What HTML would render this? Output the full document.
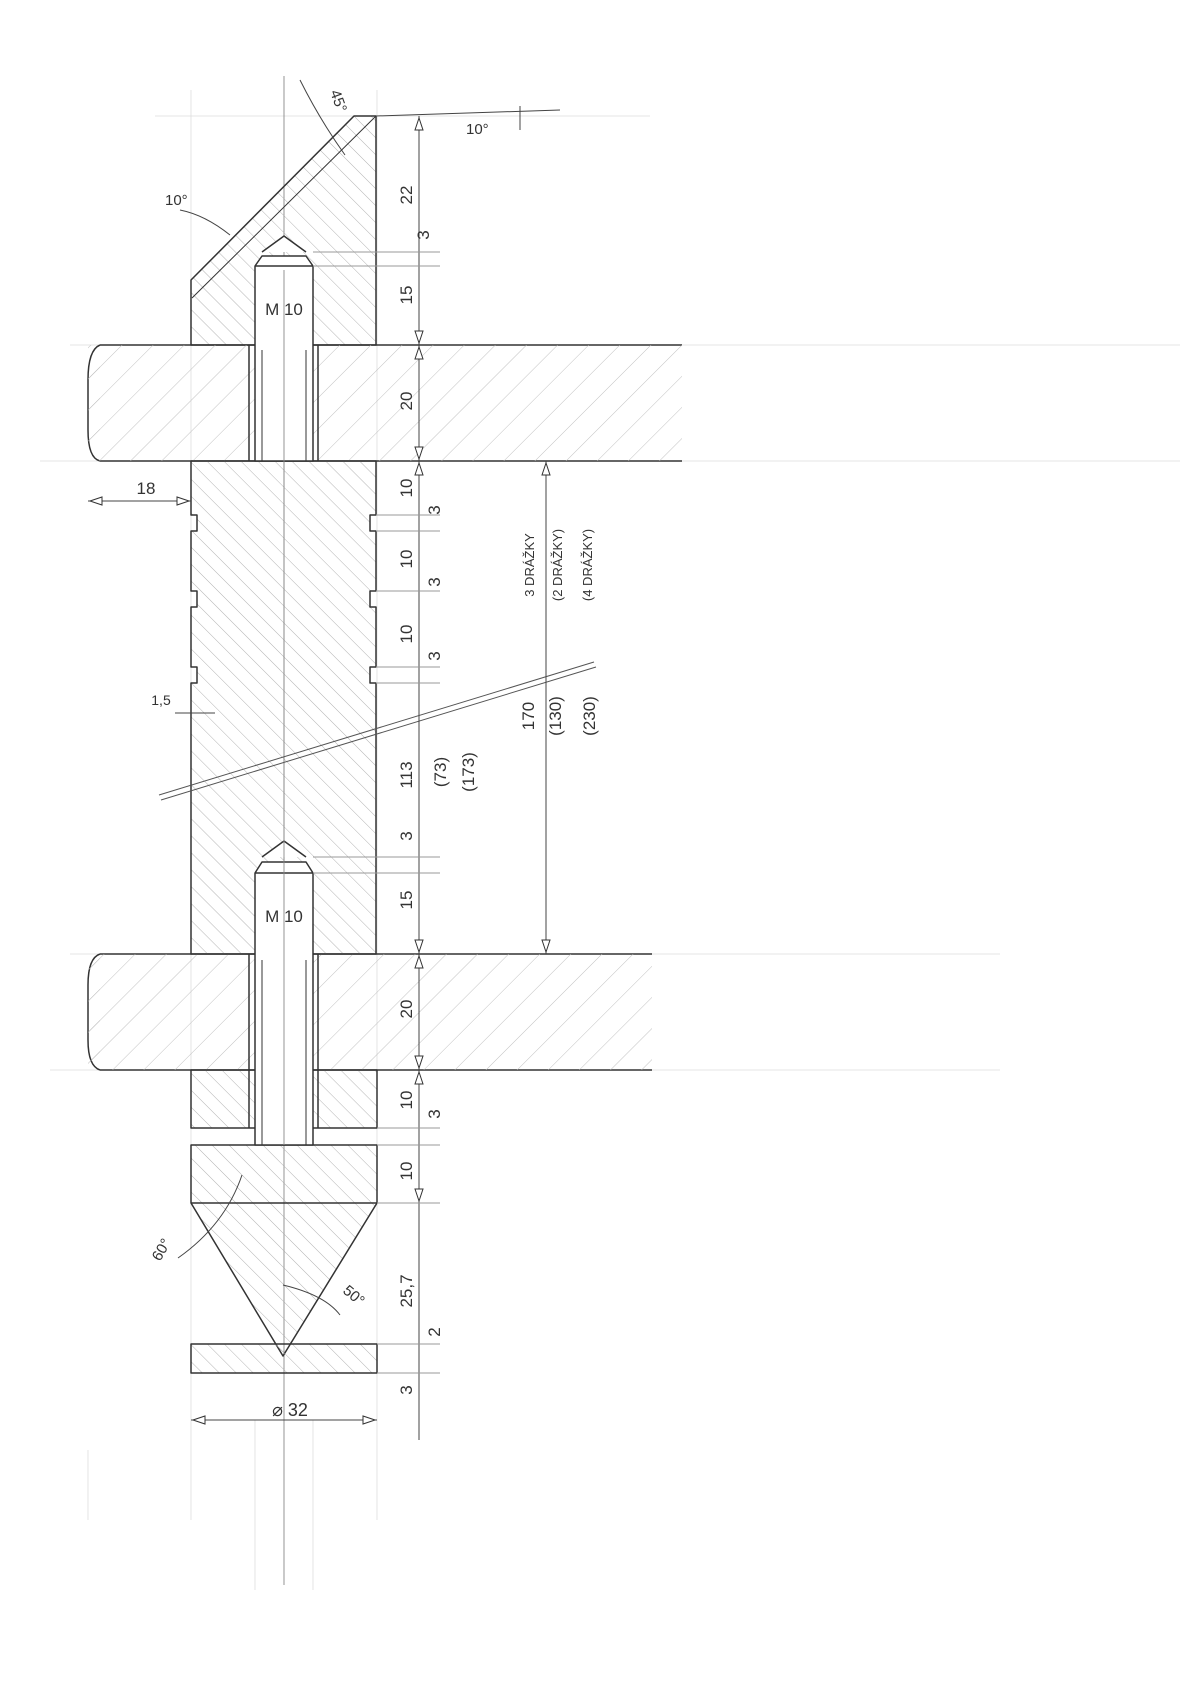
<!DOCTYPE html>
<html><head><meta charset="utf-8"><style>
html,body{margin:0;padding:0;background:#fff;}
svg{display:block;}
text{font-family:"Liberation Sans",sans-serif;fill:#333;}
</style></head><body>
<svg width="1202" height="1700" viewBox="0 0 1202 1700" xmlns="http://www.w3.org/2000/svg">
<defs>
<pattern id="hb" patternUnits="userSpaceOnUse" width="12" height="12" patternTransform="rotate(-45)">
<line x1="0" y1="0" x2="0" y2="12" stroke="#aaa" stroke-width="0.9"/></pattern>
<pattern id="hf" patternUnits="userSpaceOnUse" width="22" height="22" patternTransform="rotate(45)">
<line x1="0" y1="0" x2="0" y2="22" stroke="#bbb" stroke-width="0.9"/></pattern>
</defs>
<g stroke="#ddd" stroke-width="0.8" fill="none">
<line x1="155" y1="116" x2="650" y2="116"/>
<line x1="70" y1="345" x2="1180" y2="345"/>
<line x1="40" y1="461" x2="1180" y2="461"/>
<line x1="70" y1="954" x2="1000" y2="954"/>
<line x1="50" y1="1070" x2="1000" y2="1070"/>
<line x1="191" y1="90" x2="191" y2="1520"/>
<line x1="377" y1="90" x2="377" y2="1520"/>
<line x1="255" y1="1420" x2="255" y2="1590"/>
<line x1="313" y1="1420" x2="313" y2="1590"/>
<line x1="88" y1="1450" x2="88" y2="1520"/>
</g>
<line x1="284" y1="76" x2="284" y2="1585" stroke="#888" stroke-width="0.9"/>
<g stroke="#333" stroke-width="1.5" stroke-linejoin="round">
<polygon points="354,116 376,116 376,345 191,345 191,280" fill="url(#hb)"/>
<line x1="376" y1="116" x2="192" y2="298" stroke-width="1"/>
<path d="M100,345 H682 M100,461 H682 M100,345 Q88,350 88,380 V430 Q88,458 100,461" fill="url(#hf)"/>
<path d="M100,954 H652 M100,1070 H652 M100,954 Q88,958 88,985 V1040 Q88,1066 100,1070" fill="url(#hf)"/>
<rect x="88" y="345" width="594" height="116" fill="url(#hf)" stroke="none"/>
<rect x="88" y="954" width="564" height="116" fill="url(#hf)" stroke="none"/>
<path d="M191,461 V515 H197 V531 H191 V591 H197 V607 H191 V667 H197 V683 H191 V954 H376 V683 H370 V667 H376 V607 H370 V591 H376 V531 H370 V515 H376 V461 Z" fill="url(#hb)"/>
<rect x="191" y="1070" width="186" height="58" fill="url(#hb)"/>
<polygon points="191,1145 377,1145 377,1203 283,1356 191,1203" fill="url(#hb)"/>
<line x1="191" y1="1203" x2="377" y2="1203"/>
<rect x="191" y="1344" width="186" height="29" fill="url(#hb)"/>
<path d="M255,266 V461 H313 V266 Z M255,266 L262,256 H306 L313,266 M262,252 L284,236 L306,252" fill="#fff"/>
<line x1="249" y1="345" x2="249" y2="461"/><line x1="318" y1="345" x2="318" y2="461"/>
<path d="M255,873 V1145 H313 V873 Z M262,857 L284,841 L306,857 M255,873 L262,862 H306 L313,873" fill="#fff"/>
<line x1="249" y1="954" x2="249" y2="1128"/><line x1="318" y1="954" x2="318" y2="1128"/>
</g>
<rect x="256" y="267" width="56" height="193" fill="#fff"/>
<rect x="256" y="874" width="56" height="270" fill="#fff"/>
<g stroke="#333" stroke-width="1" fill="none">
<path d="M255,266 V461 M313,266 V461 M255,873 V1145 M313,873 V1145 M262,350 V461 M306,350 V461 M262,960 V1145 M306,960 V1145"/>
</g>
<line x1="284" y1="270" x2="284" y2="1145" stroke="#888" stroke-width="0.9"/>
<path d="M159,795 L594,662 M161,800 L596,667" stroke="#555" stroke-width="1"/>
<g stroke="#444" stroke-width="1" fill="none">
<line x1="419" y1="116" x2="419" y2="1440"/>
<line x1="546" y1="461" x2="546" y2="954"/>
<line x1="88" y1="501" x2="191" y2="501"/>
<line x1="191" y1="1420" x2="377" y2="1420"/>
<line x1="175" y1="713" x2="215" y2="713"/>
<path d="M376,116 L560,110"/>
<path d="M313,252 H440 M313,266 H440 M313,857 H440 M313,873 H440 M377,1128 H440 M377,1145 H440 M377,1203 H440 M377,1344 H440 M377,1373 H440 M376,515 H440 M376,531 H440 M376,591 H440 M376,667 H440 M376,683 H440" stroke="#999"/>
<path d="M300,80 Q320,120 345,155"/>
<path d="M180,210 Q205,215 230,235"/>
<path d="M242,1175 Q225,1225 178,1258"/>
<path d="M283,1285 Q325,1295 340,1315"/>
<path d="M520,106 V130"/>
</g>
<g fill="#fff" stroke="#333" stroke-width="1">
<polygon points="419,118 415,130 423,130"/><polygon points="419,343 415,331 423,331"/>
<polygon points="419,347 415,359 423,359"/><polygon points="419,459 415,447 423,447"/>
<polygon points="419,463 415,475 423,475"/><polygon points="419,952 415,940 423,940"/>
<polygon points="419,956 415,968 423,968"/><polygon points="419,1068 415,1056 423,1056"/>
<polygon points="419,1072 415,1084 423,1084"/><polygon points="419,1201 415,1189 423,1189"/>
<polygon points="546,463 542,475 550,475"/><polygon points="546,952 542,940 550,940"/>
<polygon points="90,501 102,497 102,505"/><polygon points="189,501 177,497 177,505"/>
<polygon points="193,1420 205,1416 205,1424"/><polygon points="375,1420 363,1416 363,1424"/>
</g>
<g font-size="17">
<text x="284" y="315" text-anchor="middle">M 10</text>
<text x="284" y="922" text-anchor="middle">M 10</text>
<text x="146" y="494" text-anchor="middle">18</text>
<text x="161" y="705" text-anchor="middle" font-size="14">1,5</text>
<text x="290" y="1416" text-anchor="middle" font-size="18">⌀ 32</text>
<text x="165" y="205" font-size="15">10°</text>
<text x="466" y="134" font-size="15">10°</text>
<text transform="translate(330,92) rotate(70)" font-size="15">45°</text>
<text transform="translate(160,1262) rotate(-60)" font-size="15">60°</text>
<text transform="translate(342,1292) rotate(40)" font-size="15">50°</text>
</g>
<g font-size="17" text-anchor="middle">
<text transform="translate(412,195) rotate(-90)">22</text>
<text transform="translate(429,235) rotate(-90)">3</text>
<text transform="translate(412,295) rotate(-90)">15</text>
<text transform="translate(412,401) rotate(-90)">20</text>
<text transform="translate(412,488) rotate(-90)">10</text>
<text transform="translate(440,510) rotate(-90)">3</text>
<text transform="translate(412,559) rotate(-90)">10</text>
<text transform="translate(440,582) rotate(-90)">3</text>
<text transform="translate(412,634) rotate(-90)">10</text>
<text transform="translate(440,656) rotate(-90)">3</text>
<text transform="translate(412,775) rotate(-90)">113</text>
<text transform="translate(446,772) rotate(-90)">(73)</text>
<text transform="translate(474,772) rotate(-90)">(173)</text>
<text transform="translate(412,836) rotate(-90)">3</text>
<text transform="translate(412,900) rotate(-90)">15</text>
<text transform="translate(412,1009) rotate(-90)">20</text>
<text transform="translate(412,1100) rotate(-90)">10</text>
<text transform="translate(440,1114) rotate(-90)">3</text>
<text transform="translate(412,1171) rotate(-90)">10</text>
<text transform="translate(412,1291) rotate(-90)">25,7</text>
<text transform="translate(440,1332) rotate(-90)">2</text>
<text transform="translate(412,1390) rotate(-90)">3</text>
<text transform="translate(534,716) rotate(-90)">170</text>
<text transform="translate(561,716) rotate(-90)">(130)</text>
<text transform="translate(595,716) rotate(-90)">(230)</text>
</g>
<g font-size="13" text-anchor="middle" fill="#555">
<text transform="translate(534,565) rotate(-90)">3 DRÁŽKY</text>
<text transform="translate(562,565) rotate(-90)">(2 DRÁŽKY)</text>
<text transform="translate(592,565) rotate(-90)">(4 DRÁŽKY)</text>
</g>
</svg>
</body></html>
